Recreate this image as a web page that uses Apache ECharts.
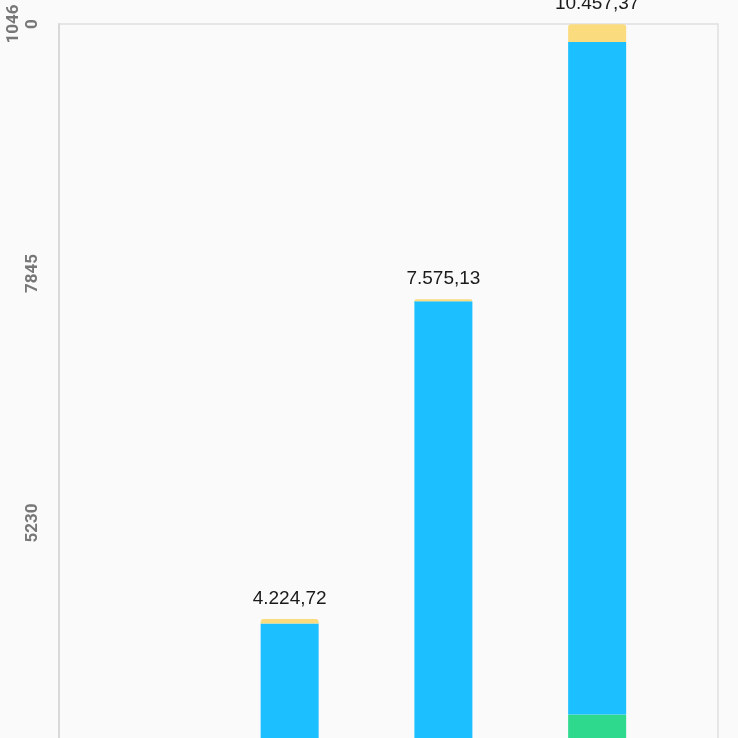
<!DOCTYPE html>
<html>
<head>
<meta charset="utf-8">
<script src="https://cdn.jsdelivr.net/npm/echarts@6/dist/echarts.min.js"></script>
<style>
    html, body {
        margin: 0;
        padding: 0;
        overflow: hidden;
        background-color: #fafafa;
    }

    .chart_box {
        width: 738px;
        height: 1080px;
    }
</style>
</head>
<body>

<div id="barChart" class="chart_box"></div>

<script>
    // bar positions on the x axis (the lower part of the chart is outside the window)
    var x_pos = [1, 2, 3];
    // stacked parts, bottom to top
    var green_vals = [0, 0, 3221.70];
    var blue_vals = [4176.00, 7555.13, 7050.00];
    var yellow_vals = [48.72, 20.00, 185.67];
    // y axis ticks
    var y_ticks = [0, 2615, 5230, 7845, 10460];

    // 4224.72 -> "4.224,72"
    function fmt_num(v) {
        var parts = v.toFixed(2).split('.');
        var int_part = parts[0].replace(/\B(?=(\d{3})+(?!\d))/g, '.');
        return int_part + ',' + parts[1];
    }

    // value first, so the stack runs on the value and not on the position
    function to_points(vals) {
        var out = [];
        for (var i = 0; i < vals.length; i++) {
            out.push([vals[i], x_pos[i]]);
        }
        return out;
    }

    var myChart = echarts.init(document.getElementById('barChart'));

    var charts_option = {};
    charts_option['animation'] = false;
    charts_option['backgroundColor'] = '#fafafa';
    charts_option['grid'] = {left: 59, right: 20, top: 22, bottom: 58, show: true,
        borderColor: '#e0e0e0', borderWidth: 1.5, backgroundColor: '#fafafa'};

    charts_option['xAxis'] = {type: 'value', min: -0.5, max: 3.786,
        axisLine: {show: false}, axisTick: {show: false},
        axisLabel: {show: false}, splitLine: {show: false}};

    charts_option['yAxis'] = {type: 'value', min: y_ticks[0], max: y_ticks[y_ticks.length - 1],
        interval: y_ticks[1] - y_ticks[0],
        axisLine: {show: true, onZero: false, lineStyle: {color: '#d9d9d9', width: 2}},
        axisTick: {show: false},
        splitLine: {show: false},
        axisLabel: {rotate: 90, margin: 17, color: '#777', fontSize: 17, fontWeight: 'bold',
            fontFamily: 'Roboto', width: 42, overflow: 'breakAll', lineHeight: 19,
            formatter: function (v) { return String(v); }}};

    charts_option['series'] = [];
    charts_option['series'].push({name: 'green', type: 'bar', stack: 'total', barWidth: 58,
        encode: {x: 1, y: 0}, data: to_points(green_vals), itemStyle: {color: '#2ed98e'}});
    charts_option['series'].push({name: 'blue', type: 'bar', stack: 'total', barWidth: 58,
        encode: {x: 1, y: 0}, data: to_points(blue_vals), itemStyle: {color: '#1cbfff'}});
    charts_option['series'].push({name: 'yellow', type: 'bar', stack: 'total', barWidth: 58,
        encode: {x: 1, y: 0}, data: to_points(yellow_vals),
        itemStyle: {color: '#fadb7e', borderRadius: [3, 3, 0, 0]},
        label: {show: true, position: 'top', distance: 11, color: '#1a1a1a', fontSize: 19,
            fontFamily: 'Liberation Sans',
            formatter: function (p) {
                var i = p.dataIndex;
                return fmt_num(green_vals[i] + blue_vals[i] + yellow_vals[i]);
            }}});

    myChart.setOption(charts_option);
</script>
</body>
</html>
